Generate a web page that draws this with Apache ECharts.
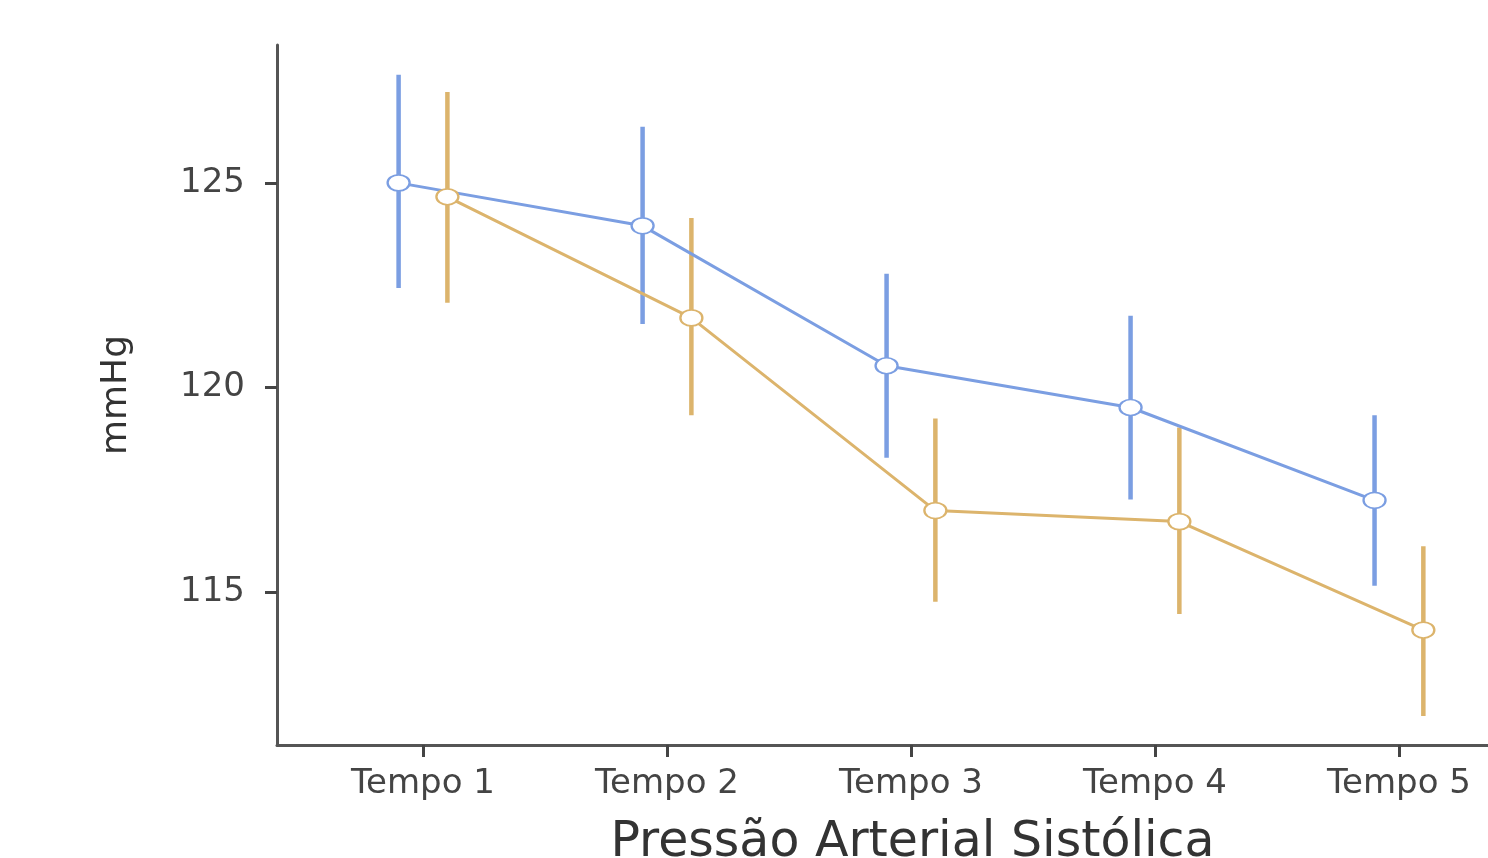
<!DOCTYPE html>
<html>
<head>
<meta charset="utf-8">
<script src="https://cdn.jsdelivr.net/npm/echarts@6/dist/echarts.min.js"></script>
<style>html,body{margin:0;padding:0;background:#fff;overflow:hidden}#c{width:1488px;height:858px}</style>
</head>
<body>
<div id="c"></div>
<script>
var categories = ['Tempo 1', 'Tempo 2', 'Tempo 3', 'Tempo 4', 'Tempo 5'];
var yTicks = [115, 120, 125];
var blueMean = [125.0, 123.95, 120.53, 119.51, 117.24];
var blueLow = [122.43, 121.55, 118.28, 117.26, 115.15];
var blueHigh = [127.64, 126.37, 122.78, 121.75, 119.32];
var orangeMean = [124.66, 121.70, 116.99, 116.72, 114.07];
var orangeLow = [122.07, 119.32, 114.76, 114.46, 111.97];
var orangeHigh = [127.22, 124.14, 119.24, 119.02, 116.12];

var BLUE = '#7b9ee2';
var ORANGE = '#dcb46c';
var dodge = 0.1;

function pts(mean, off) { return mean.map(function (v, i) { return [i + 1 + off, v]; }); }
function bars(low, high, off) { return low.map(function (v, i) { return [i + 1 + off, v, high[i]]; }); }

function errSeries(data, color) {
  return {
    type: 'custom',
    data: data,
    encode: { x: 0, y: [1, 2] },
    renderItem: function (params, api) {
      var p1 = api.coord([api.value(0), api.value(1)]);
      var p2 = api.coord([api.value(0), api.value(2)]);
      return {
        type: 'line',
        shape: { x1: p1[0], y1: p1[1], x2: p2[0], y2: p2[1] },
        style: { stroke: color, lineWidth: 4.5 }
      };
    },
    silent: true
  };
}
function lineSeries(data, color) {
  return {
    type: 'line',
    data: data,
    symbol: 'circle',
    symbolSize: [22, 16],
    showAllSymbol: true,
    lineStyle: { color: color, width: 3 },
    itemStyle: { color: '#fff', borderColor: color, borderWidth: 2 },
    silent: true
  };
}

var FONT = 'DejaVu Sans';
var chart = echarts.init(document.getElementById('c'));
chart.setOption({
  animation: false,
  grid: { left: 277, right: 0, top: 45, bottom: 113, containLabel: false, outerBoundsMode: 'none' },
  xAxis: {
    type: 'value',
    min: 0.4016,
    max: 5.365,
    splitLine: { show: false },
    axisLine: { show: true, onZero: false, lineStyle: { color: '#555', width: 3 } },
    axisTick: { show: true, customValues: [1, 2, 3, 4, 5], length: 12, lineStyle: { color: '#444', width: 3 } },
    axisLabel: {
      customValues: [1, 2, 3, 4, 5],
      formatter: function (v) { return categories[Math.round(v) - 1]; },
      margin: 22, fontSize: 34, color: '#444', fontFamily: FONT
    },
    name: 'Pressão Arterial Sistólica',
    nameLocation: 'middle',
    nameGap: 74,
    nameTextStyle: { fontSize: 49, color: '#333', fontFamily: FONT, padding: [0, 0, 0, 60] }
  },
  yAxis: {
    type: 'value',
    min: 111.26,
    max: 128.37,
    splitLine: { show: false },
    axisLine: { show: true, lineStyle: { color: '#555', width: 3 } },
    axisTick: { show: true, customValues: yTicks, length: 12, lineStyle: { color: '#444', width: 3 } },
    axisLabel: { customValues: yTicks, margin: 32, fontSize: 34, color: '#444', fontFamily: FONT },
    name: 'mmHg',
    nameLocation: 'middle',
    nameGap: 142,
    nameTextStyle: { fontSize: 36, color: '#333', fontFamily: FONT }
  },
  series: [
    errSeries(bars(blueLow, blueHigh, -dodge), BLUE),
    lineSeries(pts(blueMean, -dodge), BLUE),
    errSeries(bars(orangeLow, orangeHigh, dodge), ORANGE),
    lineSeries(pts(orangeMean, dodge), ORANGE)
  ]
});
</script>
</body>
</html>
